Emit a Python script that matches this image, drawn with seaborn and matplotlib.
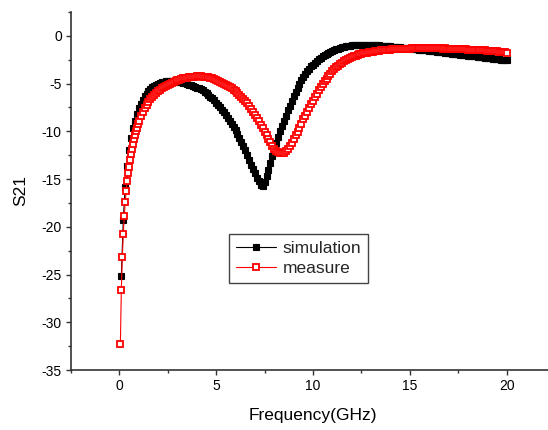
import numpy as np
import matplotlib
matplotlib.use("Agg")
import matplotlib.pyplot as plt
import seaborn as sns
from matplotlib.ticker import MultipleLocator

# Frequency sweeps (GHz)
sim_freq = np.round(np.arange(1, 201) * 0.1, 2)
meas_freq = np.round(np.concatenate([np.arange(1, 21) * 0.05,
                                     np.arange(11, 201) * 0.1]), 2)

# Simulated S21 (dB)
sim_s21 = [
    -25.2, -19.3, -15.8, -13.6, -12.0, -10.7, -9.7, -8.9, -8.2, -7.6,
    -7.1, -6.7, -6.35, -6.05, -5.8, -5.58, -5.4, -5.25, -5.12, -5.01,
    -4.92, -4.85, -4.8, -4.76, -4.74, -4.73, -4.73, -4.74, -4.76, -4.79,
    -4.83, -4.87, -4.92, -4.97, -5.03, -5.1, -5.17, -5.25, -5.33, -5.42,
    -5.5, -5.6, -5.72, -5.85, -6.0, -6.17, -6.36, -6.56, -6.77, -7.0,
    -7.24, -7.49, -7.75, -8.02, -8.3, -8.6, -8.9, -9.22, -9.55, -9.9,
    -10.3, -10.7, -11.1, -11.55, -12.0, -12.5, -13.0, -13.5, -13.95, -14.4,
    -14.85, -15.25, -15.6, -15.75, -15.35, -14.7, -14.0, -13.3, -12.55, -11.8,
    -11.2, -10.6, -10.0, -9.45, -8.9, -8.35, -7.8, -7.3, -6.8, -6.3,
    -5.85, -5.45, -5.05, -4.65, -4.3, -4.0, -3.7, -3.45, -3.2, -3.0,
    -2.8, -2.62, -2.45, -2.3, -2.15, -2.02, -1.9, -1.78, -1.67, -1.57,
    -1.48, -1.4, -1.33, -1.26, -1.2, -1.15, -1.1, -1.06, -1.03, -1.0,
    -0.98, -0.96, -0.95, -0.94, -0.93, -0.93, -0.93, -0.93, -0.94, -0.95,
    -0.96, -0.97, -0.98, -1.0, -1.01, -1.03, -1.05, -1.07, -1.09, -1.11,
    -1.13, -1.15, -1.17, -1.19, -1.21, -1.23, -1.25, -1.28, -1.3, -1.32,
    -1.34, -1.37, -1.39, -1.41, -1.44, -1.46, -1.48, -1.51, -1.53, -1.56,
    -1.58, -1.61, -1.63, -1.66, -1.68, -1.71, -1.73, -1.76, -1.78, -1.81,
    -1.83, -1.86, -1.88, -1.91, -1.93, -1.96, -1.98, -2.01, -2.03, -2.06,
    -2.08, -2.11, -2.13, -2.16, -2.18, -2.21, -2.23, -2.26, -2.28, -2.31,
    -2.33, -2.36, -2.38, -2.41, -2.43, -2.46, -2.48, -2.51, -2.53, -2.56,
]

# Measured S21 (dB)
meas_s21 = [
    -32.3, -26.6, -23.2, -20.8, -18.9, -17.4, -16.2, -15.2, -14.4, -13.7,
    -13.0, -12.4, -11.85, -11.3, -10.8, -10.35, -9.95, -9.6, -9.25, -8.95,
    -8.4, -7.95, -7.55, -7.2, -6.9, -6.63, -6.4, -6.18, -5.98, -5.8,
    -5.64, -5.49, -5.35, -5.22, -5.1, -4.99, -4.89, -4.8, -4.72, -4.65,
    -4.58, -4.52, -4.46, -4.41, -4.37, -4.33, -4.3, -4.28, -4.26, -4.25,
    -4.25, -4.25, -4.26, -4.28, -4.31, -4.35, -4.4, -4.46, -4.53, -4.61,
    -4.7, -4.8, -4.9, -5.01, -5.12, -5.24, -5.37, -5.51, -5.66, -5.82,
    -6.0, -6.19, -6.39, -6.6, -6.83, -7.08, -7.35, -7.64, -7.95, -8.27,
    -8.6, -8.95, -9.31, -9.68, -10.05, -10.43, -10.8, -11.16, -11.5, -11.8,
    -12.04, -12.21, -12.3, -12.3, -12.22, -12.07, -11.85, -11.55, -11.2, -10.82,
    -10.42, -10.02, -9.6, -9.18, -8.76, -8.35, -7.95, -7.55, -7.16, -6.78,
    -6.41, -6.05, -5.7, -5.37, -5.05, -4.75, -4.47, -4.2, -3.95, -3.72,
    -3.5, -3.3, -3.12, -2.95, -2.8, -2.66, -2.54, -2.43, -2.33, -2.24,
    -2.16, -2.08, -2.01, -1.95, -1.89, -1.84, -1.79, -1.75, -1.71, -1.67,
    -1.64, -1.61, -1.58, -1.56, -1.53, -1.51, -1.49, -1.47, -1.45, -1.43,
    -1.42, -1.4, -1.39, -1.38, -1.37, -1.36, -1.35, -1.34, -1.33, -1.33,
    -1.32, -1.32, -1.31, -1.31, -1.3, -1.3, -1.3, -1.3, -1.3, -1.3,
    -1.31, -1.3, -1.31, -1.32, -1.31, -1.32, -1.33, -1.32, -1.34, -1.35,
    -1.34, -1.36, -1.37, -1.36, -1.38, -1.39, -1.4, -1.39, -1.41, -1.43,
    -1.44, -1.43, -1.45, -1.47, -1.48, -1.47, -1.5, -1.52, -1.53, -1.55,
    -1.56, -1.58, -1.6, -1.61, -1.63, -1.65, -1.68, -1.7, -1.73, -1.78,
]

x_ticks = [0, 5, 10, 15, 20]
y_ticks = [0, -5, -10, -15, -20, -25, -30, -35]

sns.set_theme(style="ticks")
plt.rcParams["font.family"] = ["Liberation Sans", "DejaVu Sans"]
plt.rcParams["axes.unicode_minus"] = False

fig = plt.figure(figsize=(5.48, 4.30), dpi=100)
ax = fig.add_axes([71 / 548, 60 / 430, 484 / 548, 358 / 430])

sns.lineplot(x=sim_freq, y=sim_s21, ax=ax, sort=False, estimator=None,
             color="black", linewidth=0.8, marker="s", markersize=4.6,
             markeredgewidth=0.8, markerfacecolor="black",
             markeredgecolor="black", label="simulation")
sns.lineplot(x=meas_freq, y=meas_s21, ax=ax, sort=False, estimator=None,
             color="red", linewidth=0.8, marker="s", markersize=4.3,
             markeredgewidth=1.3, markerfacecolor="white",
             markeredgecolor="red", label="measure")

ax.set_xlim(-2.5, 22.5)
ax.set_ylim(-35, 2.5)
ax.set_xticks(x_ticks)
ax.set_yticks(y_ticks)
ax.xaxis.set_minor_locator(MultipleLocator(2.5))
ax.yaxis.set_minor_locator(MultipleLocator(2.5))

axis_color = "#333333"
for side in ("top", "right"):
    ax.spines[side].set_visible(False)
for side in ("left", "bottom"):
    ax.spines[side].set_color(axis_color)
    ax.spines[side].set_linewidth(1.2)
ax.tick_params(which="major", direction="out", length=3.6, width=1.0,
               color=axis_color, labelsize=10, labelcolor="black", pad=3)
ax.tick_params(which="minor", direction="out", length=2.3, width=1.0,
               color=axis_color)

ax.set_xlabel("Frequency(GHz)", fontsize=12.5, labelpad=11, color="black")
ax.set_ylabel("S21", fontsize=12.5, labelpad=10, color="black")

leg = ax.legend(loc="upper left", bbox_to_anchor=(0.3264, 0.3799),
                borderaxespad=0, fontsize=12.5, handlelength=2.3,
                handletextpad=0.4, borderpad=0.4, labelspacing=0.3,
                frameon=True, fancybox=False, edgecolor="#444444",
                framealpha=1, markerscale=1.0)
leg.get_frame().set_linewidth(1.0)

fig.savefig("out.png", dpi=100)
